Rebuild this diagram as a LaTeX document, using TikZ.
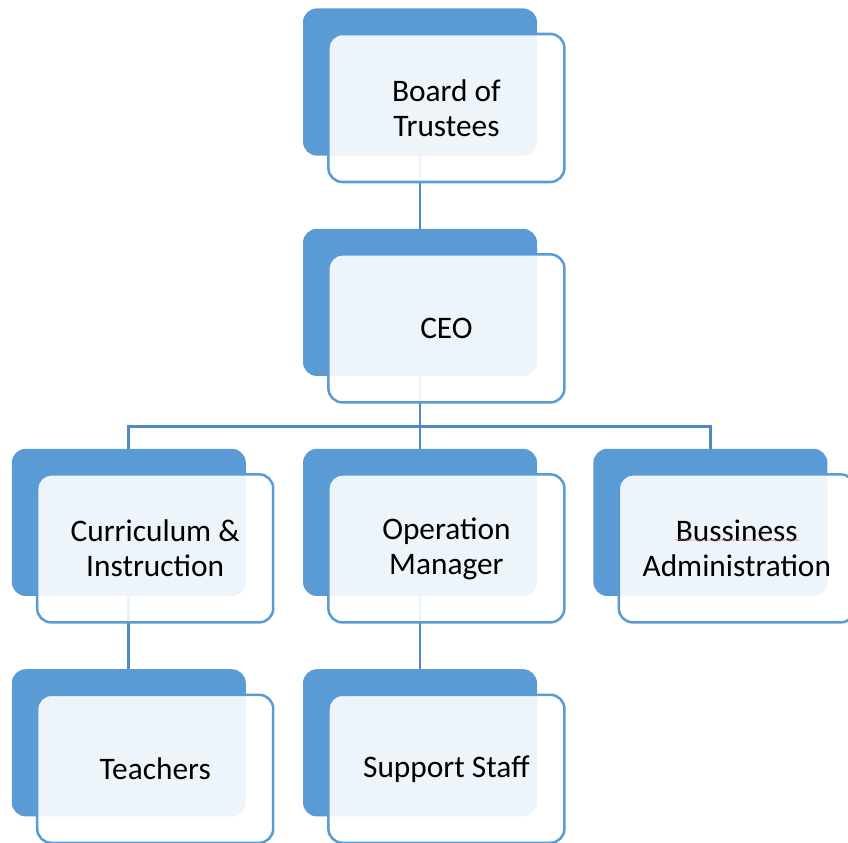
\documentclass[tikz,border=0pt]{standalone}
\usepackage{fontspec}
\setmainfont{Carlito}
\usepackage{xcolor}
\usetikzlibrary{positioning, decorations.pathmorphing}

\definecolor{accent}{HTML}{5B9BD5}
\definecolor{linkblue}{HTML}{508AC6}

\begin{document}
\begin{tikzpicture}[
    back/.style={rectangle, rounded corners=0.35cm, fill=accent, minimum width=5.85cm, minimum height=3.68cm},
    front/.style={rectangle, rounded corners=0.35cm, draw=accent, line width=1.8pt, fill=white, fill opacity=0.9, text opacity=1, minimum width=5.9cm, minimum height=3.7cm, align=center, font=\fontsize{22.3}{24.9}\selectfont},
    link/.style={draw=linkblue, line width=2pt}
]
\useasboundingbox (0,0) rectangle (21.2,21.05);

% Back panels
\node[back] at (10.5,19.0) (board) {};
\node[back] at (10.5,13.49) (ceo) {};
\node[back] at (3.22,7.99) (curric) {};
\node[back] at (10.5,7.99) (opman) {};
\node[back] at (17.76,7.99) (busadm) {};
\node[back] at (3.22,2.48) (teach) {};
\node[back] at (10.5,2.48) (support) {};

% Connectors (behind the front panels)
\coordinate (bus) at (10.5,10.38);
\draw[link] (board.south) -- (ceo.north);
\draw[link] (ceo.south) -- (opman.north);
\draw[link] (curric.north) |- (bus) -| (busadm.north);
\draw[link] (curric.south) -- (teach.north);
\draw[link] (opman.south) -- (support.north);

% Front panels with the labels
\node[front] at ([shift={(0.66,-0.65)}]board.center) (boardf) {Board of\\Trustees};
\node[front] at ([shift={(0.66,-0.65)}]ceo.center) (ceof) {CEO};
\node[front] at ([shift={(0.66,-0.65)}]curric.center) (curricf) {Curriculum \&\\Instruction};
\node[front] at ([shift={(0.66,-0.65)}]opman.center) (opmanf) {Operation\\Manager};
\node[front] at ([shift={(0.66,-0.65)}]busadm.center) (busadmf) {Bussiness\\Administration};
\node[front] at ([shift={(0.66,-0.65)}]teach.center) (teachf) {Teachers};
\node[front] at ([shift={(0.66,-0.65)}]support.center) (supportf) {Support Staff};

% spell-check squiggle
\draw[red!60, line width=0.3pt, decorate, decoration={snake, amplitude=0.3pt, segment length=2pt}] (16.88,7.55) -- (20.0,7.55);

\end{tikzpicture}
\end{document}
